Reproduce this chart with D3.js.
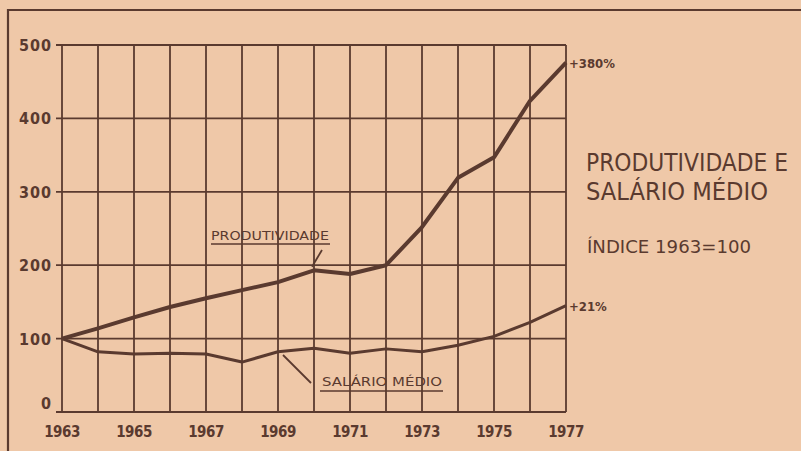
<!DOCTYPE html>
<html>
<head>
<meta charset="utf-8">
<script src="https://cdn.jsdelivr.net/npm/d3@7"></script>
<style>
  body { margin: 0; background: #efc8a8; }
  svg { display: block; }
</style>
</head>
<body>
<svg width="801" height="451"></svg>
<script>
const years = d3.range(1963, 1978);
const produtividade = [100, 114, 129, 143, 155, 166, 177, 193, 188, 200, 252, 319, 347, 424, 476];
const salario = [100, 82, 79, 80, 79, 68, 82, 87, 80, 86, 82, 91, 103, 122, 145];
const yTicks = [0, 100, 200, 300, 400, 500];
const xLabels = [1963, 1965, 1967, 1969, 1971, 1973, 1975, 1977];

const ink = "#5a3a2f";
const svg = d3.select("svg");
const margin = {left: 62, right: 235, top: 45, bottom: 39};
const W = 801, H = 451;

const x = d3.scaleLinear().domain([1963, 1977]).range([margin.left, W - margin.right]);
const y = d3.scaleLinear().domain([0, 500]).range([H - margin.bottom, margin.top]);

// page frame
svg.append("path")
  .attr("d", `M8,451 V10 H801`)
  .attr("fill", "none").attr("stroke", ink).attr("stroke-width", 2.2);

// grid
const grid = svg.append("g").attr("stroke", ink).attr("stroke-width", 1.8);
grid.selectAll("line.v").data(years).enter().append("line")
  .attr("x1", d => x(d)).attr("x2", d => x(d))
  .attr("y1", y(0)).attr("y2", y(500));
grid.selectAll("line.h").data(yTicks).enter().append("line")
  .attr("x1", x(1963) - 6).attr("x2", x(1977))
  .attr("y1", d => y(d)).attr("y2", d => y(d));

// y labels
svg.append("g").selectAll("text").data(yTicks).enter().append("text")
  .attr("x", x(1963) - 10).attr("y", d => y(d) + (d === 0 ? -3 : 6))
  .attr("text-anchor", "end")
  .attr("font-family", "DejaVu Sans Condensed").attr("font-weight", "bold")
  .attr("font-size", 16).attr("fill", ink)
  .attr("letter-spacing", 1)
  .text(d => d);

// x labels
svg.append("g").selectAll("text").data(xLabels).enter().append("text")
  .attr("x", d => x(d)).attr("y", 437)
  .attr("text-anchor", "middle")
  .attr("font-family", "DejaVu Sans Condensed").attr("font-weight", "bold")
  .attr("font-size", 15).attr("fill", ink)
  .attr("letter-spacing", -0.5)
  .text(d => d);

const line = d3.line().x((d, i) => x(years[i])).y(d => y(d));

svg.append("path").datum(produtividade)
  .attr("d", line).attr("fill", "none")
  .attr("stroke", ink).attr("stroke-width", 4).attr("stroke-linejoin", "round");
svg.append("path").datum(salario)
  .attr("d", line).attr("fill", "none")
  .attr("stroke", ink).attr("stroke-width", 3).attr("stroke-linejoin", "round");

// series labels with pointers
const lab = svg.append("g").attr("fill", ink)
  .attr("font-family", "DejaVu Sans Condensed").attr("font-size", 13);
lab.append("text").attr("x", 211).attr("y", 240).attr("textLength", 118)
  .attr("lengthAdjust", "spacingAndGlyphs").text("PRODUTIVIDADE");
lab.append("line").attr("x1", 211).attr("x2", 330).attr("y1", 244).attr("y2", 244)
  .attr("stroke", ink).attr("stroke-width", 1.5);
lab.append("line").attr("x1", 322).attr("y1", 250).attr("x2", x(1970) - 2).attr("y2", y(198))
  .attr("stroke", ink).attr("stroke-width", 1.8);

lab.append("text").attr("x", 322).attr("y", 386).attr("textLength", 120)
  .attr("lengthAdjust", "spacingAndGlyphs").text("SALÁRIO MÉDIO");
lab.append("line").attr("x1", 320).attr("x2", 443).attr("y1", 391).attr("y2", 391)
  .attr("stroke", ink).attr("stroke-width", 1.5);
lab.append("line").attr("x1", 283).attr("y1", 355).attr("x2", 311).attr("y2", 383)
  .attr("stroke", ink).attr("stroke-width", 1.8);

// end labels
const endLab = svg.append("g").attr("fill", ink)
  .attr("font-family", "DejaVu Sans Condensed").attr("font-weight", "bold").attr("font-size", 13);
endLab.append("text").attr("x", x(1977) + 3).attr("y", y(produtividade[14]) + 5).text("+380%");
endLab.append("text").attr("x", x(1977) + 3).attr("y", y(salario[14]) + 5).text("+21%");

// title block
const title = svg.append("g").attr("fill", ink).attr("font-family", "DejaVu Sans Condensed");
title.append("text").attr("x", 586).attr("y", 171).attr("font-size", 24)
  .attr("textLength", 202).attr("lengthAdjust", "spacingAndGlyphs").text("PRODUTIVIDADE E");
title.append("text").attr("x", 586).attr("y", 200).attr("font-size", 24)
  .attr("textLength", 182).attr("lengthAdjust", "spacingAndGlyphs").text("SALÁRIO MÉDIO");
title.append("text").attr("x", 587).attr("y", 253).attr("font-size", 18)
  .attr("textLength", 164).attr("lengthAdjust", "spacingAndGlyphs").text("ÍNDICE 1963=100");
</script>
</body>
</html>
